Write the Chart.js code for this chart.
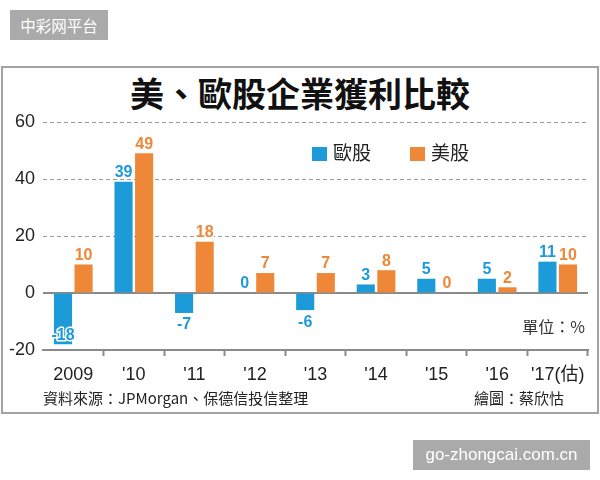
<!DOCTYPE html>
<html lang="zh-Hant">
<head>
<meta charset="UTF-8">
<title>美、歐股企業獲利比較</title>
<script src="https://cdn.jsdelivr.net/npm/chart.js"></script>
<style>
  body { margin: 0; width: 600px; height: 480px; position: relative; background: #fff; overflow: hidden;
         font-family: 'Noto Sans CJK TC', sans-serif; color: #222; }
  .badge { position: absolute; left: 10px; top: 10px; width: 98px; height: 30px; background: #aaa; color: #fff;
           font: 15.5px 'Noto Sans CJK SC'; line-height: 30px; text-align: center; }
  .site { position: absolute; left: 413px; top: 440px; width: 177px; height: 30px; background: #aaa; color: #fff;
          font: 17px 'Liberation Sans', sans-serif; line-height: 30px; text-align: center; }
  .frame { position: absolute; left: 1px; top: 66px; width: 598px; height: 348px; box-sizing: border-box;
           border: 2px solid #a3a3a3; }
  .title { position: absolute; left: 0; width: 600px; top: 71px; text-align: center; font-size: 34px; font-weight: bold;
           line-height: 44px; color: #111; }
  #chart { position: absolute; left: 0; top: 0; }
  .legend { position: absolute; top: 140px; font-size: 19px; line-height: 24px; }
  .legend span { display: inline-block; width: 15px; height: 14px; vertical-align: -1px; margin-right: 6px; }
  .unit { position: absolute; right: 15px; top: 314px; font-size: 16px; color: #333; }
  .source { position: absolute; left: 43px; top: 387px; font-size: 15px; color: #222; }
  .credit { position: absolute; right: 36px; top: 387px; font-size: 15px; color: #222; }
</style>
</head>
<body>
  <div class="badge">中彩网平台</div>
  <div class="frame"></div>
  <div class="title">美、歐股企業獲利比較</div>
  <canvas id="chart" width="600" height="480"></canvas>
  <div class="legend" style="left:312px"><span style="background:#1d9ad8"></span>歐股</div>
  <div class="legend" style="left:410px"><span style="background:#ee8737"></span>美股</div>
  <div class="unit">單位：%</div>
  <div class="source">資料來源：JPMorgan、保德信投信整理</div>
  <div class="credit">繪圖：蔡欣怙</div>
  <div class="site">go-zhongcai.com.cn</div>

<script>
  const years = ['2009', "'10", "'11", "'12", "'13", "'14", "'15", "'16", "'17(估)"];
  const europe = [-18, 39, -7, 0, -6, 3, 5, 5, 11];
  const us = [10, 49, 18, 7, 7, 8, 0, 2, 10];
  const yTicks = [-20, 0, 20, 40, 60];

  const BLUE = '#1d9ad8';
  const ORANGE = '#ee8737';

  // solid zero line across the plot
  const zeroLine = {
    id: 'zeroLine',
    beforeDatasetsDraw(chart) {
      const { ctx, chartArea, scales } = chart;
      const y = scales.y.getPixelForValue(0);
      ctx.save();
      ctx.strokeStyle = '#8a8a8a';
      ctx.lineWidth = 2;
      ctx.beginPath();
      ctx.moveTo(chartArea.left, y);
      ctx.lineTo(chartArea.right, y);
      ctx.stroke();
      ctx.restore();
    }
  };

  // numbers on the bars
  const valueLabels = {
    id: 'valueLabels',
    afterDatasetsDraw(chart) {
      const ctx = chart.ctx;
      const bottom = chart.chartArea.bottom;
      ctx.save();
      ctx.font = 'bold 16px "Liberation Sans", Arial, sans-serif';
      ctx.textAlign = 'center';
      ctx.textBaseline = 'middle';
      ctx.lineJoin = 'round';
      chart.data.datasets.forEach((ds, di) => {
        chart.getDatasetMeta(di).data.forEach((bar, i) => {
          const v = ds.data[i];
          let y;
          if (v >= 0) {
            y = bar.y - 9;
          } else {
            y = bar.y + 12;
            if (y > bottom - 12) y = bar.y - 9;
          }
          ctx.lineWidth = 3;
          ctx.strokeStyle = '#fff';
          ctx.strokeText(String(v), bar.x, y);
          ctx.fillStyle = ds.backgroundColor;
          ctx.fillText(String(v), bar.x, y);
        });
      });
      ctx.restore();
    }
  };

  new Chart(document.getElementById('chart'), {
    type: 'bar',
    data: {
      labels: years,
      datasets: [
        { label: '歐股', data: europe, backgroundColor: BLUE },
        { label: '美股', data: us, backgroundColor: ORANGE }
      ]
    },
    options: {
      responsive: false,
      animation: false,
      layout: { padding: { left: 0, top: 122, right: 12, bottom: 0 } },
      datasets: { bar: { categoryPercentage: 0.68, barPercentage: 0.88 } },
      plugins: { legend: { display: false }, tooltip: { enabled: false }, title: { display: false } },
      scales: {
        x: {
          grid: {
            offset: true, drawOnChartArea: false, drawTicks: true, tickLength: 6, tickWidth: 2,
            tickColor: ctx => ctx.index === 0 ? 'rgba(0,0,0,0)' : '#8a8a8a'
          },
          border: { display: true, color: '#8a8a8a', width: 2 },
          ticks: { color: '#222', padding: 8, maxRotation: 0,
                   font: { family: '"Liberation Sans", "Noto Sans CJK TC", sans-serif', size: 18 } },
          afterFit(scale) { scale.height = 130; }
        },
        y: {
          min: yTicks[0],
          max: yTicks[yTicks.length - 1],
          grid: {
            drawTicks: false,
            color: ctx => (ctx.tick && ctx.tick.value > 0) ? '#9a9a9a' : 'rgba(0,0,0,0)',
            lineWidth: 1
          },
          border: { display: false, dash: [4, 3] },
          ticks: { stepSize: yTicks[1] - yTicks[0], color: '#222', padding: 8,
                   font: { family: '"Liberation Sans", sans-serif', size: 18 } },
          afterFit(scale) { scale.width = 43; }
        }
      }
    },
    plugins: [zeroLine, valueLabels]
  });
</script>
</body>
</html>
